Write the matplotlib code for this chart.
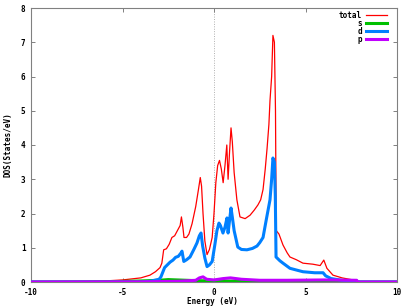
import matplotlib
matplotlib.use("Agg")
import matplotlib.pyplot as plt
from matplotlib.lines import Line2D

# ---- data ----
energy_total = [-10, -7, -6, -5, -4, -3.5, -3.2, -2.95, -2.85, -2.75, -2.6, -2.45, -2.3, -2.15,
                -2.0, -1.85, -1.78, -1.7, -1.64, -1.5, -1.37, -1.2, -1.0, -0.85, -0.75, -0.68,
                -0.6, -0.5, -0.38, -0.25, -0.1, 0.0, 0.1, 0.2, 0.3, 0.4, 0.5, 0.6, 0.7, 0.77,
                0.85, 0.93, 1.0, 1.1, 1.25, 1.42, 1.7, 1.97, 2.2, 2.4, 2.55, 2.68, 2.8, 2.9,
                3.0, 3.06, 3.15, 3.22, 3.3, 3.36, 3.4, 3.55, 3.77, 4.0, 4.15, 4.5, 4.86, 5.4,
                5.8, 6.0, 6.17, 6.5, 7.0, 7.5, 7.8, 7.85, 10]
dos_total = [0, 0.01, 0.03, 0.06, 0.12, 0.2, 0.3, 0.42, 0.55, 0.94, 0.97, 1.1, 1.3, 1.35,
             1.5, 1.65, 1.9, 1.6, 1.3, 1.3, 1.4, 1.7, 2.2, 2.7, 3.05, 2.8,
             2.0, 1.2, 0.8, 0.95, 1.3, 2.0, 2.9, 3.4, 3.55, 3.3, 2.9, 3.4, 4.0, 3.0,
             3.8, 4.5, 4.1, 3.2, 2.4, 1.9, 1.85, 1.95, 2.1, 2.25, 2.4, 2.7, 3.3, 3.9,
             4.6, 5.3, 6.0, 7.2, 7.0, 5.0, 1.5, 1.4, 1.08, 0.85, 0.73, 0.65, 0.55, 0.52,
             0.48, 0.64, 0.4, 0.2, 0.12, 0.07, 0.04, 0, 0]

energy_d = [-10, -4, -3.5, -3.0, -2.9, -2.7, -2.55, -2.4, -2.24, -2.1, -1.95, -1.8, -1.75,
            -1.65, -1.5, -1.31, -1.1, -0.93, -0.8, -0.71, -0.62, -0.5, -0.38, -0.25, -0.1,
            0.05, 0.16, 0.27, 0.35, 0.49, 0.6, 0.71, 0.77, 0.85, 0.93, 1.0, 1.1, 1.3, 1.5,
            1.8, 2.1, 2.35, 2.5, 2.68, 2.85, 3.06, 3.15, 3.22, 3.3, 3.35, 3.39, 3.6, 3.77,
            4.15, 4.5, 4.86, 5.5, 5.96, 6.1, 6.4, 7.0, 7.8, 7.85, 10]
dos_d = [0, 0, 0.02, 0.08, 0.15, 0.42, 0.5, 0.58, 0.64, 0.72, 0.75, 0.85, 0.9,
         0.6, 0.65, 0.73, 0.95, 1.14, 1.35, 1.43, 1.05, 0.7, 0.45, 0.5, 0.6,
         1.1, 1.5, 1.72, 1.65, 1.43, 1.6, 1.87, 1.43, 1.8, 2.16, 1.9, 1.5, 1.02, 0.95,
         0.94, 0.98, 1.05, 1.15, 1.3, 1.8, 2.4, 3.0, 3.62, 3.5, 2.5, 0.73, 0.62, 0.55,
         0.4, 0.35, 0.3, 0.27, 0.27, 0.18, 0.1, 0.05, 0.02, 0, 0]

energy_s = [-10, -5.5, -4, -3, -2.5, -2, -1, 0, 2, 4, 7.8, 7.85, 10]
dos_s = [0, 0.01, 0.03, 0.05, 0.07, 0.06, 0.04, 0.03, 0.02, 0.01, 0.005, 0, 0]

energy_p = [-10, -4, -2, -1, -0.8, -0.6, -0.4, 0, 0.5, 0.9, 1.5, 2.5, 4, 6, 7.8, 7.85, 10]
dos_p = [0, 0.005, 0.02, 0.05, 0.12, 0.15, 0.08, 0.06, 0.1, 0.12, 0.08, 0.05, 0.05, 0.06,
         0.05, 0, 0]

series_labels = ["total", "s", "d", "p"]
series_colors = ["#ff0000", "#00c000", "#0080ff", "#c000ff"]
x_ticks = [-10, -5, 0, 5, 10]
y_ticks = [0, 1, 2, 3, 4, 5, 6, 7, 8]

W, H = 409, 306
fig = plt.figure(figsize=(W / 100, H / 100), dpi=100)
ax = fig.add_axes([31 / W, 1 - 282 / H, (397 - 31) / W, (282 - 8) / H])

FONT = dict(family="DejaVu Sans Mono", fontsize=5.5, fontweight="bold")

ax.axvline(0, color="#b0b0b0", lw=0.7, ls=(0, (1, 1.5)), zorder=1)
ax.plot(energy_total, dos_total, color=series_colors[0], lw=0.9, zorder=2)
ax.plot(energy_s, dos_s, color=series_colors[1], lw=2.2, zorder=3)
ax.plot(energy_d, dos_d, color=series_colors[2], lw=2.2, zorder=4)
ax.plot(energy_p, dos_p, color=series_colors[3], lw=2.2, zorder=5)

ax.set_xlim(-10, 10)
ax.set_ylim(0, 8)
ax.set_xticks(x_ticks)
ax.set_yticks(y_ticks)
ax.set_xticklabels([str(t) for t in x_ticks], **FONT)
ax.set_yticklabels([str(t) for t in y_ticks], **FONT)
ax.tick_params(direction="in", length=3, width=0.7, color="#808080",
               top=True, right=True, pad=4)
for sp in ax.spines.values():
    sp.set_color("#808080")
    sp.set_linewidth(0.8)

fig.text(212 / W, 1 - 302 / H, "Energy (eV)", ha="center", va="center", **FONT)
fig.text(8 / W, 1 - 145 / H, "DOS(States/eV)", ha="center", va="center",
         rotation=90, **FONT)

# legend (gnuplot style: right-aligned text, sample to the right)
rows_y = [15, 23, 31, 39]
for lab, col, yy in zip(series_labels, series_colors, rows_y):
    fy = 1 - yy / H
    fig.text(362 / W, fy, lab, ha="right", va="center", **FONT)
    fig.add_artist(Line2D([366 / W, 387 / W], [fy, fy], color=col,
                          lw=0.9 if lab == "total" else 2.2,
                          transform=fig.transFigure))

fig.savefig("out.png", dpi=100)
